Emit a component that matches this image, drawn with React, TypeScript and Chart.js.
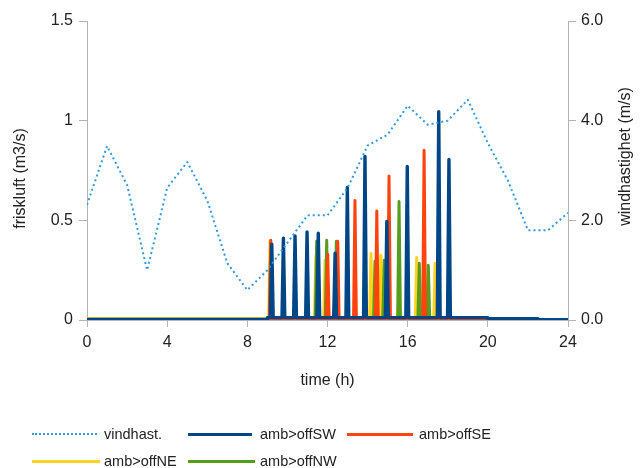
import { useEffect, useRef } from "react";
import { Chart, registerables } from "chart.js";

Chart.register(...registerables);

// Hourly wind speed (m/s)
const hours = [0, 1, 2, 3, 4, 5, 6, 7, 8, 9, 10, 11, 12, 13, 14, 15, 16, 17, 18, 19, 20, 21, 22, 23, 24];
const windSpeed = [2.31, 3.49, 2.71, 1.0, 2.65, 3.17, 2.4, 1.14, 0.6, 1.0, 1.55, 2.1, 2.1, 2.65, 3.5, 3.72, 4.3, 3.92, 4.0, 4.42, 3.55, 2.8, 1.8, 1.8, 2.15];

// Fresh-air pulses per flow path: hour of each pulse and its peak flow (m3/s)
const swPulseHours = [9.22, 9.8, 10.38, 10.98, 11.54, 12.38, 12.99, 13.87, 14.96, 15.98, 17.55, 18.06];
const swPulsePeaks = [0.38, 0.41, 0.422, 0.442, 0.435, 0.335, 0.665, 0.82, 0.495, 0.77, 1.045, 0.805];
const sePulseHours = [9.17, 12.01, 12.51, 13.37, 14.46, 15.07, 16.82];
const sePulsePeaks = [0.4, 0.33, 0.395, 0.6, 0.547, 0.722, 0.851];
const nePulseHours = [9.13, 11.42, 11.88, 14.17, 14.66, 15.57, 16.45, 17.37];
const nePulsePeaks = [0.395, 0.32, 0.3, 0.333, 0.325, 0.12, 0.313, 0.285];
const nwPulseHours = [9.17, 11.46, 11.96, 12.44, 14.37, 14.83, 15.57, 16.58, 17.03];
const nwPulsePeaks = [0.385, 0.395, 0.4, 0.395, 0.295, 0.3, 0.595, 0.285, 0.275];

// Background flow between pulses: level from each listed hour onward (m3/s)
const swBaseHours = [0, 9, 20, 22.5];
const swBaseLevels = [0.003, 0.012, 0.006, 0.002];
const seBaseHours = [0, 9, 22.5];
const seBaseLevels = [0.002, 0.006, 0.002];
const neBaseHours = [0, 9];
const neBaseLevels = [0.007, 0.003];
const nwBaseHours = [0];
const nwBaseLevels = [0.003];

const seriesLabels = ["vindhast.", "amb>offSW", "amb>offSE", "amb>offNE", "amb>offNW"];
const xTitle = "time (h)";
const yTitle = "friskluft (m3/s)";
const y2Title = "windhastighet (m/s)";

const COLORS = {
  wind: "#3399e0",
  sw: "#004586",
  se: "#ff420e",
  ne: "#ffd320",
  nw: "#579d1c",
};
const FONT = '"Liberation Sans", Arial, sans-serif';
const TEXT = "#222222";
const AXIS = "#b3b3b3";
const PULSE_HALF_WIDTH = 0.07; // hours

type Pt = { x: number; y: number };

function pulseSeries(baseHours: number[], baseLevels: number[], pulseHours: number[], pulsePeaks: number[]): Pt[] {
  const levelAt = (t: number) => {
    let v = baseLevels[0];
    baseHours.forEach((h, i) => {
      if (t >= h) v = baseLevels[i];
    });
    return v;
  };
  const pts: Pt[] = [];
  baseHours.forEach((h, i) => {
    if (i > 0) pts.push({ x: h, y: baseLevels[i - 1] });
    pts.push({ x: h, y: baseLevels[i] });
  });
  pts.push({ x: 24, y: baseLevels[baseLevels.length - 1] });
  pulseHours.forEach((t, i) => {
    const b = levelAt(t);
    pts.push({ x: t - PULSE_HALF_WIDTH, y: b });
    pts.push({ x: t, y: pulsePeaks[i] });
    pts.push({ x: t + PULSE_HALF_WIDTH, y: b });
  });
  return pts
    .map((p, i) => ({ ...p, i }))
    .sort((a, b) => a.x - b.x || a.i - b.i)
    .map(({ x, y }) => ({ x, y }));
}

const axisTitles = {
  id: "axisTitles",
  afterDraw(chart: any) {
    const { ctx, chartArea } = chart;
    ctx.save();
    ctx.font = `16px ${FONT}`;
    ctx.fillStyle = TEXT;
    ctx.textAlign = "center";
    ctx.textBaseline = "middle";
    ctx.fillText(xTitle, (chartArea.left + chartArea.right) / 2, chartArea.bottom + 61);
    const midY = (chartArea.top + chartArea.bottom) / 2;
    ctx.save();
    ctx.translate(21, midY + 8);
    ctx.rotate(-Math.PI / 2);
    ctx.fillText(yTitle, 0, 0);
    ctx.restore();
    ctx.save();
    ctx.translate(chartArea.right + 58, midY - 14);
    ctx.rotate(-Math.PI / 2);
    ctx.fillText(y2Title, 0, 0);
    ctx.restore();
    ctx.restore();
  },
};

const legendItems = [
  { label: seriesLabels[0], color: COLORS.wind, dotted: true, lineX: 32, textX: 104, y: 434, len: 65 },
  { label: seriesLabels[1], color: COLORS.sw, dotted: false, lineX: 188, textX: 260, y: 434, len: 64 },
  { label: seriesLabels[2], color: COLORS.se, dotted: false, lineX: 347, textX: 419, y: 434, len: 66 },
  { label: seriesLabels[3], color: COLORS.ne, dotted: false, lineX: 32, textX: 104, y: 461, len: 68 },
  { label: seriesLabels[4], color: COLORS.nw, dotted: false, lineX: 188, textX: 260, y: 461, len: 67 },
];

export default function App() {
  const canvasRef = useRef<HTMLCanvasElement | null>(null);

  useEffect(() => {
    const canvas = canvasRef.current;
    if (!canvas) return;
    const tickFont = { family: FONT, size: 16 };
    const chart = new Chart(canvas, {
      type: "line",
      data: {
        datasets: [
          {
            label: seriesLabels[0],
            data: hours.map((h, i) => ({ x: h, y: windSpeed[i] })),
            yAxisID: "y2",
            borderColor: COLORS.wind,
            borderWidth: 2,
            borderDash: [2, 3],
            order: 0,
          },
          {
            label: seriesLabels[1],
            data: pulseSeries(swBaseHours, swBaseLevels, swPulseHours, swPulsePeaks),
            yAxisID: "y",
            borderColor: COLORS.sw,
            borderWidth: 3.4,
            order: 1,
          },
          {
            label: seriesLabels[2],
            data: pulseSeries(seBaseHours, seBaseLevels, sePulseHours, sePulsePeaks),
            yAxisID: "y",
            borderColor: COLORS.se,
            borderWidth: 3,
            order: 2,
          },
          {
            label: seriesLabels[3],
            data: pulseSeries(neBaseHours, neBaseLevels, nePulseHours, nePulsePeaks),
            yAxisID: "y",
            borderColor: COLORS.ne,
            borderWidth: 3,
            order: 4,
          },
          {
            label: seriesLabels[4],
            data: pulseSeries(nwBaseHours, nwBaseLevels, nwPulseHours, nwPulsePeaks),
            yAxisID: "y",
            borderColor: COLORS.nw,
            borderWidth: 3,
            order: 3,
          },
        ],
      },
      options: {
        animation: false,
        responsive: false,
        devicePixelRatio: 1,
        layout: { padding: { top: 21, left: 0, right: 0, bottom: 0 } },
        elements: {
          point: { radius: 0, hoverRadius: 0 },
          line: { tension: 0, borderJoinStyle: "round", borderCapStyle: "butt", fill: false },
        },
        plugins: { legend: { display: false }, tooltip: { enabled: false } },
        scales: {
          x: {
            type: "linear",
            min: 0,
            max: 24,
            ticks: { stepSize: 4, font: tickFont, color: TEXT, padding: 6, maxRotation: 0 },
            grid: { drawOnChartArea: false, tickLength: 7, tickColor: AXIS },
            border: { color: AXIS, width: 1 },
            afterFit: (s: any) => {
              s.height = 148;
            },
          },
          y: {
            position: "left",
            min: 0,
            max: 1.5,
            ticks: { stepSize: 0.5, font: tickFont, color: TEXT, padding: 6, callback: (v: any) => String(v) },
            grid: { drawOnChartArea: false, tickLength: 8, tickColor: AXIS },
            border: { color: AXIS, width: 1 },
            afterFit: (s: any) => {
              s.width = 87;
            },
          },
          y2: {
            position: "right",
            min: 0,
            max: 6,
            ticks: { stepSize: 2, font: tickFont, color: TEXT, padding: 5, callback: (v: any) => Number(v).toFixed(1) },
            grid: { drawOnChartArea: false, tickLength: 8, tickColor: AXIS },
            border: { color: AXIS, width: 1 },
            afterFit: (s: any) => {
              s.width = 76;
            },
          },
        },
      },
      plugins: [axisTitles],
    } as any);
    return () => chart.destroy();
  }, []);

  return (
    <div style={{ position: "fixed", left: 0, top: 0, width: 644, height: 468, background: "#ffffff", fontFamily: FONT }}>
      <canvas ref={canvasRef} width={644} height={468} style={{ position: "absolute", left: 0, top: 0, width: 644, height: 468 }} />
      {legendItems.map((it) => (
        <div key={it.label}>
          <div
            style={{
              position: "absolute",
              left: it.lineX,
              top: it.y - (it.dotted ? 1 : 1.5),
              width: it.len,
              height: 0,
              borderTop: it.dotted ? `2px dotted ${it.color}` : `3px solid ${it.color}`,
            }}
          />
          <div
            style={{
              position: "absolute",
              left: it.textX,
              top: it.y - 10,
              height: 20,
              lineHeight: "20px",
              fontSize: 14.5,
              color: TEXT,
              whiteSpace: "nowrap",
            }}
          >
            {it.label}
          </div>
        </div>
      ))}
    </div>
  );
}
